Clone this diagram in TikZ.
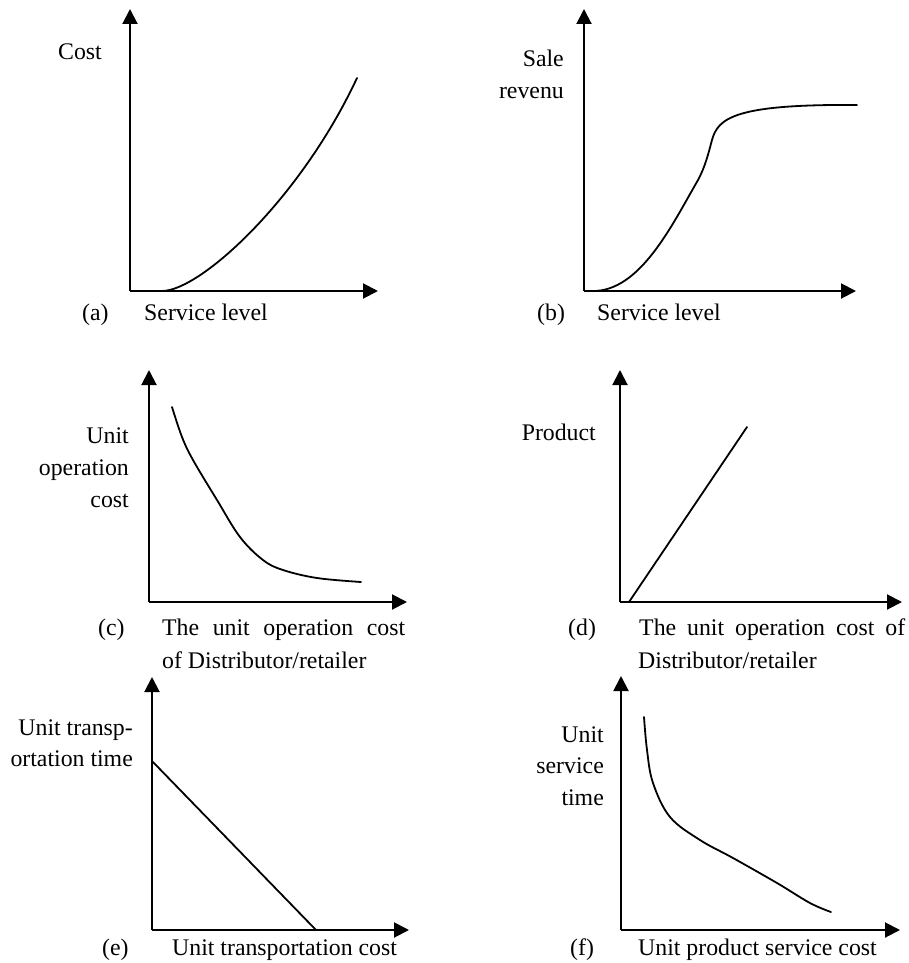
\documentclass[tikz,border=0pt]{standalone}
\usepackage{fontspec}
\setmainfont{Liberation Serif}
\usetikzlibrary{arrows.meta}
\begin{document}
\begin{tikzpicture}[x=1pt,y=-1pt,
  axis/.style={line width=2pt,-{Triangle[length=15pt,width=15pt]}},
  curve/.style={line width=1.8pt,line cap=round},
  lbl/.style={inner sep=0pt,font=\fontsize{23.8}{32}\selectfont}]
\fill[white] (0,0) rectangle (909,963);
\useasboundingbox (0,0) rectangle (909,963);
% ---------- (a)
\coordinate (ao) at (130,291);
\coordinate (ay) at (130,9);
\coordinate (ax) at (378,291);
\coordinate (a1) at (162,291);
\coordinate (a2) at (357,78);
\draw[axis] (ao) -- (ay);
\draw[axis] (ao) -- (ax);
\draw[curve] (a1) .. controls (200,291) and (300,200) .. (a2);
\node[lbl,anchor=base east] (acost) at (102,60) {Cost};
\node[lbl,anchor=base west] (atag) at (82,320) {(a)};
\node[lbl,anchor=base west] (axl) at (144,320) {Service level};
% ---------- (b)
\coordinate (bo) at (584,291);
\coordinate (by) at (584,9);
\coordinate (bx) at (856,291);
\coordinate (b1) at (592,291);
\coordinate (b2) at (698,180);
\coordinate (b3) at (712,140);
\coordinate (b4) at (857,105);
\draw[axis] (bo) -- (by);
\draw[axis] (bo) -- (bx);
\draw[curve] (b1) .. controls (640,292) and (672,225) .. (b2)
   .. controls (705,167) and (708,155) .. (b3)
   .. controls (718,118) and (735,104) .. (b4);
\node[lbl,anchor=base east] (bsale) at (564,67) {Sale};
\node[lbl,anchor=base east] (brev) at (564,99) {revenu};
\node[lbl,anchor=base west] (btag) at (537,320) {(b)};
\node[lbl,anchor=base west] (bxl) at (597,320) {Service level};
% ---------- (c)
\coordinate (co) at (149,602);
\coordinate (cy) at (149,370);
\coordinate (cx) at (407,602);
\draw[axis] (co) -- (cy);
\draw[axis] (co) -- (cx);
\draw[curve] plot[smooth,tension=0.6] coordinates {(172,407) (182,437) (193,460) (217,500) (240,537) (263,560) (283,570) (317,578) (361,582)};
\node[lbl,anchor=base east] (cy1) at (129,443) {Unit};
\node[lbl,anchor=base east] (cy2) at (129,475) {operation};
\node[lbl,anchor=base east] (cy3) at (129,507) {cost};
\node[lbl,anchor=base west] (ctag) at (98,635) {(c)};
\node[lbl,anchor=base west] (cx1) at (162,635) {\hbox to 243pt{The\hfill unit\hfill operation\hfill cost}};
\node[lbl,anchor=base west] (cx2) at (162,668) {of Distributor/retailer};
% ---------- (d)
\coordinate (do) at (620,602);
\coordinate (dy) at (620,370);
\coordinate (dx) at (902,602);
\coordinate (d1) at (629,602);
\coordinate (d2) at (747,427);
\draw[axis] (do) -- (dy);
\draw[axis] (do) -- (dx);
\draw[curve] (d1) -- (d2);
\node[lbl,anchor=base east] (dprod) at (596,440) {Product};
\node[lbl,anchor=base west] (dtag) at (568,635) {(d)};
\node[lbl,anchor=base west] (dx1) at (639,635) {\hbox to 266pt{The\hfill unit\hfill operation\hfill cost\hfill of}};
\node[lbl,anchor=base west] (dx2) at (638,668) {Distributor/retailer};
% ---------- (e)
\coordinate (eo) at (152,930);
\coordinate (ey) at (152,677);
\coordinate (ex) at (409,930);
\coordinate (e1) at (152,761);
\coordinate (e2) at (316,930);
\draw[axis] (eo) -- (ey);
\draw[axis] (eo) -- (ex);
\draw[curve] (e1) -- (e2);
\node[lbl,anchor=base east] (ey1) at (133,735) {Unit transp-};
\node[lbl,anchor=base east] (ey2) at (133,766) {ortation time};
\node[lbl,anchor=base west] (etag) at (102,955) {(e)};
\node[lbl,anchor=base west] (exl) at (172,955) {Unit transportation cost};
% ---------- (f)
\coordinate (fo) at (621,930);
\coordinate (fy) at (621,676);
\coordinate (fx) at (900,930);
\draw[axis] (fo) -- (fy);
\draw[axis] (fo) -- (fx);
\draw[curve] plot[smooth,tension=0.6] coordinates {(644,717) (647,750) (653,783) (670,817) (700,840) (733,858) (777,883) (810,903) (831,912)};
\node[lbl,anchor=base east] (fy1) at (604,742) {Unit};
\node[lbl,anchor=base east] (fy2) at (604,773) {service};
\node[lbl,anchor=base east] (fy3) at (604,805) {time};
\node[lbl,anchor=base west] (ftag) at (570,955) {(f)};
\node[lbl,anchor=base west] (fxl) at (638,955) {Unit product service cost};
\end{tikzpicture}
\end{document}
